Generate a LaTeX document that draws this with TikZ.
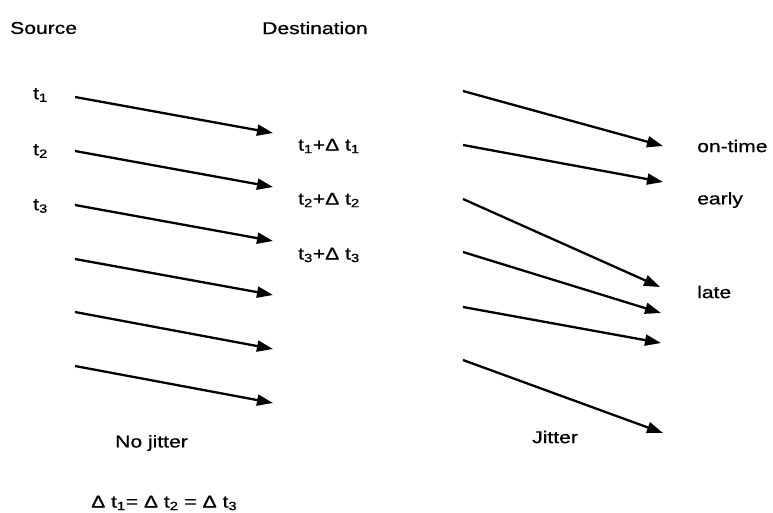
\documentclass[tikz,border=0pt]{standalone}
\usepackage{fontspec}
\setmainfont{Liberation Sans}
\newfontfamily\lblfont[FakeBold=0.7]{Liberation Sans}
\usetikzlibrary{arrows.meta}
\newcommand{\hs}[1]{\scalebox{1.24}[1]{#1}}
\newcommand{\mysub}[1]{\textsubscript{#1}}
\begin{document}
\begin{tikzpicture}[x=1pt,y=-1pt,
  lbl/.style={inner sep=0pt,anchor=west,font=\lblfont\fontsize{17}{20}\selectfont},
  arr/.style={line width=2.3pt,-{Triangle[length=16pt,width=11pt]}}]
\useasboundingbox (0,0) rectangle (773,512);
% headings
\node[lbl] (src) at (10,28) {\hs{Source}};
\node[lbl] (dst) at (262,28) {\hs{Destination}};
% source times
\node[lbl] (s1) at (33,95) {\hs{t\mysub{1}}};
\node[lbl] (s2) at (33,151) {\hs{t\mysub{2}}};
\node[lbl] (s3) at (33,206) {\hs{t\mysub{3}}};
% destination times
\node[lbl] (d1) at (298,146) {\hs{t\mysub{1}+Δ t\mysub{1}}};
\node[lbl] (d2) at (298,200) {\hs{t\mysub{2}+Δ t\mysub{2}}};
\node[lbl] (d3) at (298,255) {\hs{t\mysub{3}+Δ t\mysub{3}}};
% left arrows
\foreach \i/\ya/\yb in {1/97/133,2/151/187,3/205/241,4/259/295,5/312/349,6/366/403}{
  \coordinate (la\i) at (75,\ya);
  \coordinate (lb\i) at (273,\yb);
  \draw[arr] (la\i) -- (lb\i);
}
% right arrows
\foreach \i/\ya/\xb/\yb in {1/91/663/146,2/145/663/182,3/199/660/287,4/252/661/313,5/307/661/343,6/360/663/433}{
  \coordinate (ra\i) at (463,\ya);
  \coordinate (rb\i) at (\xb,\yb);
  \draw[arr] (ra\i) -- (rb\i);
}
% right labels
\node[lbl] (ontime) at (697,146) {\hs{on-time}};
\node[lbl] (early) at (697,200) {\hs{early}};
\node[lbl] (late) at (697,292) {\hs{late}};
% bottom captions
\node[lbl] (nojit) at (115,443) {\hs{No jitter}};
\node[lbl] (jit) at (532,437) {\hs{Jitter}};
\node[lbl] (eq) at (91,503) {\hs{Δ t\mysub{1}= Δ t\mysub{2} = Δ t\mysub{3}}};
\end{tikzpicture}
\end{document}
